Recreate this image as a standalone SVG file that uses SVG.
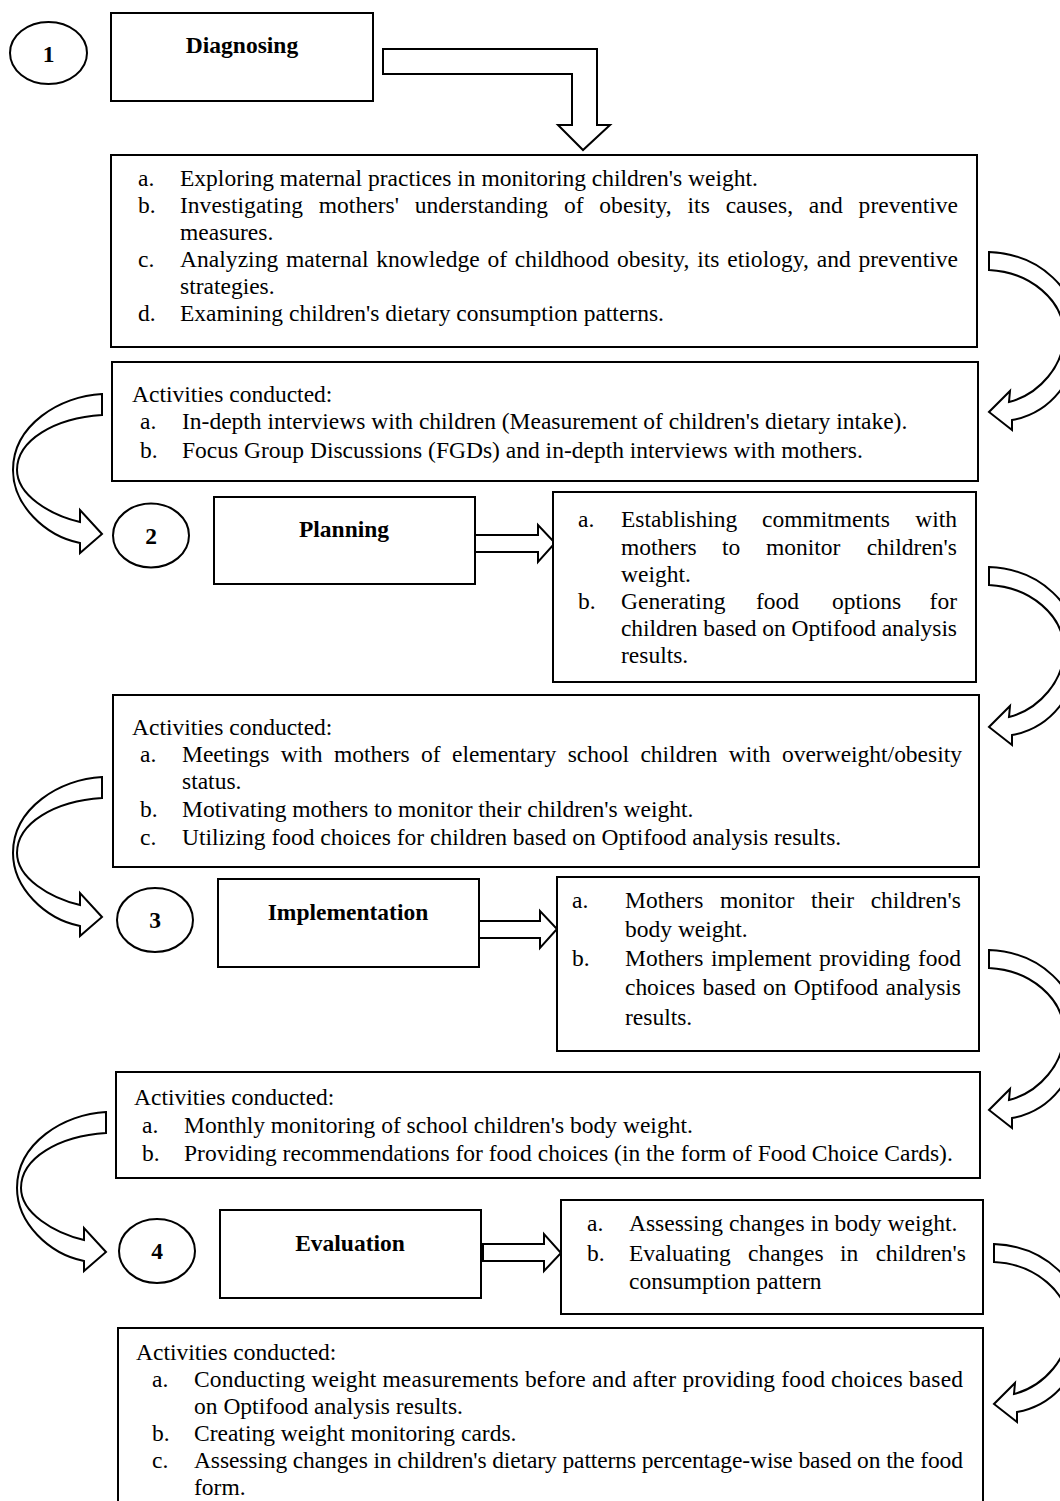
<svg xmlns="http://www.w3.org/2000/svg" width="1060" height="1501" viewBox="0 0 1060 1501">
<defs>
<style>
.box{fill:#fff;stroke:#000;stroke-width:2}
.arr{fill:#fff;stroke:#000;stroke-width:2;stroke-linejoin:miter}
.t{font-family:"Liberation Serif","Times New Roman",serif;font-size:23.5px;fill:#000}
.b{font-weight:bold;text-anchor:middle}
</style>
<path id="rc" d="M989,252 C1040,254 1078,290 1078,335 C1078,380 1050,413 1012,420 L1012,430 L989,412 L1010,391 L1009,402 C1040,394 1064,365 1064,335 C1064,300 1030,272 989,270 Z"/>
<path id="lc" d="M102,394 C60,396 13,425 13,470 C13,505 45,536 80,543 L80,553 L102,534 L80,510 L80,522 C50,515 17,495 17,470 C17,440 55,418 102,415 Z"/>
</defs>
<rect width="1060" height="1501" fill="#fff"/>

<g id="connectors">
<path class="arr" d="M383,49 L597,49 L597,125 L610,125 L583,150 L558,125 L572,125 L572,74 L383,74 Z"/>
<use href="#rc" class="arr"/>
<use href="#lc" class="arr"/>
<path class="arr" d="M475,535 L538,535 L538,525 L555,543 L538,562 L538,552 L475,552 Z"/>
<use href="#rc" class="arr" transform="translate(0,315)"/>
<use href="#lc" class="arr" transform="translate(0,383)"/>
<path class="arr" d="M479,921 L540,921 L540,911 L557,929 L540,948 L540,938 L479,938 Z"/>
<use href="#rc" class="arr" transform="translate(0,698)"/>
<use href="#lc" class="arr" transform="translate(4,718)"/>
<path class="arr" d="M483,1244 L544,1244 L544,1234 L561,1253 L544,1271 L544,1261 L483,1261 Z"/>
<use href="#rc" class="arr" transform="translate(5,992)"/>
</g>

<g id="n1">
<ellipse class="box" cx="48.5" cy="53" rx="38.5" ry="31"/>
<text class="t b" x="48.5" y="62">1</text>
</g>
<g id="diagnosing">
<rect class="box" x="111" y="13" width="262" height="88"/>
<text class="t b" x="242" y="53">Diagnosing</text>
</g>
<g id="diag-detail">
<rect class="box" x="111" y="155" width="866" height="192"/>
<text class="t" x="138" y="186">a.</text>
<text class="t" x="180" y="186">Exploring maternal practices in monitoring children's weight.</text>
<text class="t" x="138" y="213">b.</text>
<text class="t" x="180" y="213" word-spacing="9.9" textLength="778" lengthAdjust="spacing">Investigating mothers' understanding of obesity, its causes, and preventive</text>
<text class="t" x="180" y="240">measures.</text>
<text class="t" x="138" y="267">c.</text>
<text class="t" x="180" y="267" word-spacing="1.8" textLength="778" lengthAdjust="spacing">Analyzing maternal knowledge of childhood obesity, its etiology, and preventive</text>
<text class="t" x="180" y="294">strategies.</text>
<text class="t" x="138" y="321">d.</text>
<text class="t" x="180" y="321">Examining children's dietary consumption patterns.</text>
</g>
<g id="diag-activities">
<rect class="box" x="112" y="362" width="866" height="119"/>
<text class="t" x="132" y="402">Activities conducted:</text>
<text class="t" x="140" y="429">a.</text>
<text class="t" x="182" y="429">In-depth interviews with children (Measurement of children's dietary intake).</text>
<text class="t" x="140" y="458">b.</text>
<text class="t" x="182" y="458">Focus Group Discussions (FGDs) and in-depth interviews with mothers.</text>
</g>

<g id="n2">
<ellipse class="box" cx="151" cy="535.5" rx="38" ry="32"/>
<text class="t b" x="151" y="544">2</text>
</g>
<g id="planning">
<rect class="box" x="214" y="497" width="261" height="87"/>
<text class="t b" x="344" y="537">Planning</text>
</g>
<g id="plan-detail">
<rect class="box" x="553" y="492" width="423" height="190"/>
<text class="t" x="578" y="527">a.</text>
<text class="t" y="527"><tspan x="621">Establishing</tspan><tspan x="762">commitments</tspan><tspan x="957" text-anchor="end">with</tspan></text>
<text class="t" y="555"><tspan x="621">mothers</tspan><tspan x="722">to</tspan><tspan x="766">monitor</tspan><tspan x="957" text-anchor="end">children's</tspan></text>
<text class="t" x="621" y="582">weight.</text>
<text class="t" x="578" y="609">b.</text>
<text class="t" y="609"><tspan x="621">Generating</tspan><tspan x="756">food</tspan><tspan x="832">options</tspan><tspan x="957" text-anchor="end">for</tspan></text>
<text class="t" x="621" y="636" textLength="336" lengthAdjust="spacing">children based on Optifood analysis</text>
<text class="t" x="621" y="663">results.</text>
</g>
<g id="plan-activities">
<rect class="box" x="113" y="695" width="866" height="172"/>
<text class="t" x="132" y="735">Activities conducted:</text>
<text class="t" x="140" y="762">a.</text>
<text class="t" x="182" y="762" word-spacing="5.5" textLength="780" lengthAdjust="spacing">Meetings with mothers of elementary school children with overweight/obesity</text>
<text class="t" x="182" y="789">status.</text>
<text class="t" x="140" y="817">b.</text>
<text class="t" x="182" y="817">Motivating mothers to monitor their children's weight.</text>
<text class="t" x="140" y="845">c.</text>
<text class="t" x="182" y="845">Utilizing food choices for children based on Optifood analysis results.</text>
</g>

<g id="n3">
<ellipse class="box" cx="155" cy="920" rx="38" ry="32"/>
<text class="t b" x="155" y="928">3</text>
</g>
<g id="implementation">
<rect class="box" x="218" y="879" width="261" height="88"/>
<text class="t b" x="348" y="920">Implementation</text>
</g>
<g id="impl-detail">
<rect class="box" x="557" y="877" width="422" height="174"/>
<text class="t" x="572" y="908">a.</text>
<text class="t" y="908"><tspan x="625">Mothers</tspan><tspan x="720">monitor</tspan><tspan x="811">their</tspan><tspan x="961" text-anchor="end">children's</tspan></text>
<text class="t" x="625" y="937">body weight.</text>
<text class="t" x="572" y="966">b.</text>
<text class="t" x="625" y="966" word-spacing="1.7" textLength="336" lengthAdjust="spacing">Mothers implement providing food</text>
<text class="t" x="625" y="995" word-spacing="1.5" textLength="336" lengthAdjust="spacing">choices based on Optifood analysis</text>
<text class="t" x="625" y="1025">results.</text>
</g>
<g id="impl-activities">
<rect class="box" x="116" y="1072" width="864" height="106"/>
<text class="t" x="134" y="1105">Activities conducted:</text>
<text class="t" x="142" y="1133">a.</text>
<text class="t" x="184" y="1133">Monthly monitoring of school children's body weight.</text>
<text class="t" x="142" y="1161">b.</text>
<text class="t" x="184" y="1161">Providing recommendations for food choices (in the form of Food Choice Cards).</text>
</g>

<g id="n4">
<ellipse class="box" cx="157" cy="1251" rx="38" ry="32"/>
<text class="t b" x="157" y="1259">4</text>
</g>
<g id="evaluation">
<rect class="box" x="220" y="1210" width="261" height="88"/>
<text class="t b" x="350" y="1251">Evaluation</text>
</g>
<g id="eval-detail">
<rect class="box" x="561" y="1200" width="422" height="114"/>
<text class="t" x="587" y="1231">a.</text>
<text class="t" x="629" y="1231">Assessing changes in body weight.</text>
<text class="t" x="587" y="1261">b.</text>
<text class="t" y="1261"><tspan x="629">Evaluating</tspan><tspan x="748">changes</tspan><tspan x="840">in</tspan><tspan x="966" text-anchor="end">children's</tspan></text>
<text class="t" x="629" y="1289">consumption pattern</text>
</g>
<g id="eval-activities">
<rect class="box" x="118" y="1328" width="865" height="200"/>
<text class="t" x="136" y="1360">Activities conducted:</text>
<text class="t" x="152" y="1387">a.</text>
<text class="t" x="194" y="1387" textLength="769" lengthAdjust="spacing">Conducting weight measurements before and after providing food choices based</text>
<text class="t" x="194" y="1414">on Optifood analysis results.</text>
<text class="t" x="152" y="1441">b.</text>
<text class="t" x="194" y="1441">Creating weight monitoring cards.</text>
<text class="t" x="152" y="1468">c.</text>
<text class="t" x="194" y="1468" textLength="769" lengthAdjust="spacing">Assessing changes in children's dietary patterns percentage-wise based on the food</text>
<text class="t" x="194" y="1495">form.</text>
</g>
</svg>
